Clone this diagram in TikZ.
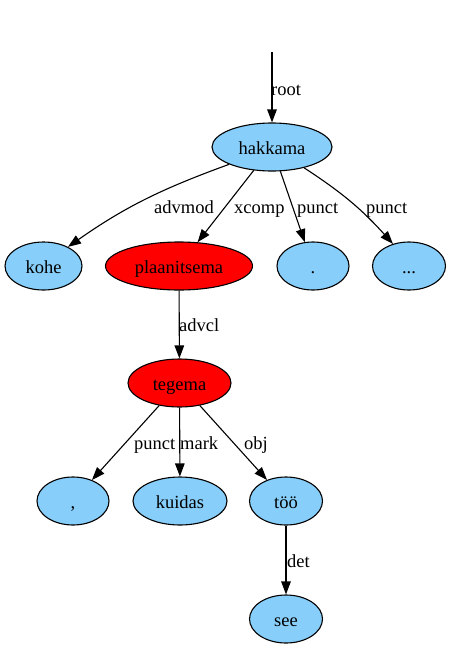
\documentclass[tikz,border=0pt]{standalone}
\usepackage{fontspec}
\setmainfont{Liberation Serif}
\usetikzlibrary{arrows.meta,shapes.geometric}
\definecolor{nodeblue}{HTML}{87CEFA}
\definecolor{nodered}{HTML}{FF0000}
\begin{document}
\begin{tikzpicture}[x=1pt,y=-1pt,
  tok/.style={ellipse,draw=black,line width=1.1pt,inner sep=0pt,minimum height=48pt,
    text height=18pt,text depth=4pt,font=\fontsize{18.5}{22}\selectfont},
  bnode/.style={tok,fill=nodeblue},
  rnode/.style={tok,fill=nodered},
  rel/.style={anchor=base west,inner sep=0pt,font=\fontsize{18.5}{22}\selectfont},
  conn/.style={line width=1.1pt,-{Triangle[length=13pt,width=9.5pt]}}]
\useasboundingbox (0,0) rectangle (450,649);
\coordinate (top) at (272,52);
\node[bnode,minimum width=120pt] (hakkama) at (272,147) {hakkama};
\node[bnode,minimum width=77pt] (kohe) at (43.5,266) {kohe};
\node[rnode,minimum width=147pt] (plaan) at (179,266) {plaanitsema};
\node[bnode,minimum width=72pt] (dot) at (313,266) {.};
\node[bnode,minimum width=73pt] (dots) at (409,266) {...};
\node[rnode,minimum width=103pt] (tegema) at (179.5,383) {tegema};
\node[bnode,minimum width=72pt] (comma) at (73,501) {,};
\node[bnode,minimum width=94pt] (kuidas) at (180,501) {kuidas};
\node[bnode,minimum width=73pt] (too) at (286,501) {töö};
\node[bnode,minimum width=73pt] (see) at (286,619) {see};

\draw[conn] (top) -- (hakkama);
\draw[conn] (hakkama.202) to[out=200,in=35] (kohe.38);
\draw[conn] (hakkama) -- (plaan);
\draw[conn] (hakkama) -- (dot);
\draw[conn] (hakkama.327) to[out=-33,in=132] (dots.126);
\draw[conn] (plaan) -- (tegema);
\draw[conn] (tegema) -- (comma);
\draw[conn] (tegema) -- (kuidas);
\draw[conn] (tegema) -- (too);
\draw[conn] (too) -- (see);

\node[rel] (lroot) at (271,95) {root};
\node[rel] (ladvmod) at (154,213) {advmod};
\node[rel] (lxcomp) at (234,213) {xcomp};
\node[rel] (lpunct1) at (297,213) {punct};
\node[rel] (lpunct2) at (366,213) {punct};
\node[rel] (ladvcl) at (179,331) {advcl};
\node[rel] (lpunct3) at (134,449) {punct};
\node[rel] (lmark) at (180,449) {mark};
\node[rel] (lobj) at (244,449) {obj};
\node[rel] (ldet) at (287,567) {det};
\end{tikzpicture}
\end{document}
